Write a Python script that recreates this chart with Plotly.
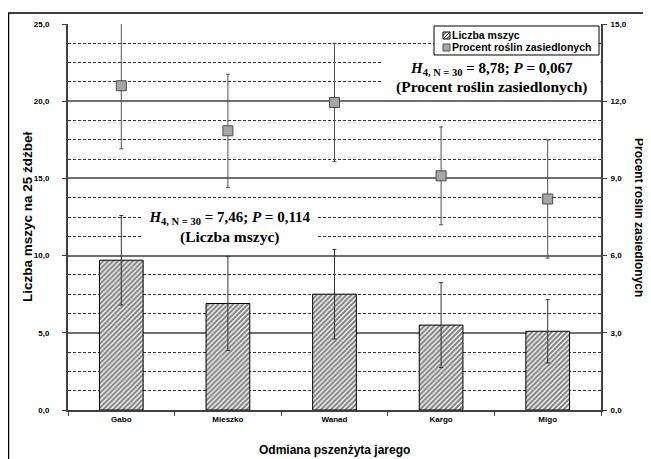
import plotly.graph_objects as go

categories = ["Gabo", "Mieszko", "Wanad", "Kargo", "Migo"]
liczba_mszyc = [9.7, 6.9, 7.5, 5.5, 5.1]
liczba_err = [2.9, 3.05, 2.9, 2.75, 2.05]
procent = [12.6, 10.85, 11.95, 9.1, 8.2]
procent_err = [2.45, 2.2, 2.3, 1.9, 2.3]

left_ticks = [0, 5, 10, 15, 20, 25]
right_ticks = [0, 3, 6, 9, 12, 15]

SANS = "Liberation Sans, Arial, sans-serif"
SERIF = "Liberation Serif, Times New Roman, serif"
AX = "#404040"

# plot area in reference pixels: left 68, right 601, top 22, bottom 410
PX_L, PX_R, PX_T, PX_B = 68, 601, 22, 410
W, H = PX_R - PX_L, PX_B - PX_T


def px(xp):
    return (xp - PX_L) / W


def py(yp):
    return (PX_B - yp) / H


fig = go.Figure()

fig.add_trace(go.Bar(
    x=categories, y=liczba_mszyc, name="Liczba mszyc",
    marker=dict(color="white", line=dict(color="black", width=1),
                pattern=dict(shape="/", fgcolor="black", bgcolor="white", size=3.5, solidity=0.6)),
    error_y=dict(type="data", array=liczba_err, visible=True, color="#333333", thickness=1, width=2),
    yaxis="y",
))

fig.add_trace(go.Scatter(
    x=categories, y=procent, name="Procent roślin zasiedlonych", mode="markers",
    marker=dict(symbol="square", size=10, color="#a6a6a6", line=dict(color="#4a4a4a", width=1)),
    error_y=dict(type="data", array=procent_err, visible=True, color="#505050", thickness=1, width=2),
    yaxis="y2",
))

# the page body has an 8px margin, so the figure is 8px smaller and margins are shifted
fig.update_layout(
    width=643, height=451,
    margin=dict(l=PX_L - 8, r=651 - PX_R, t=PX_T - 8, b=459 - PX_B),
    paper_bgcolor="white", plot_bgcolor="white",
    separators=", ",
    bargap=0.59,
    showlegend=False,
    font=dict(family=SANS, size=8, color="black"),
    xaxis=dict(
        type="category", showline=True, linecolor=AX, linewidth=2,
        ticks="outside", tickson="boundaries", ticklen=4, tickcolor=AX,
        tickfont=dict(family=SANS, size=8, weight="bold"),
        showgrid=False, zeroline=False,
    ),
    yaxis=dict(
        range=[0, 25], tickvals=left_ticks, tickformat=".1f",
        showline=True, linecolor=AX, linewidth=2,
        ticks="outside", ticklen=4, tickcolor=AX, ticklabelstandoff=11,
        tickfont=dict(family=SANS, size=8, weight="bold"),
        showgrid=True, gridcolor="#6e6e6e", gridwidth=1.5,
        minor=dict(dtick=1.25, showgrid=True, gridcolor="#333333", gridwidth=1, griddash="3px,2px", ticks=""),
        zeroline=False,
    ),
    yaxis2=dict(
        range=[0, 15], tickvals=right_ticks, tickformat=".1f",
        overlaying="y", side="right",
        showline=True, linecolor=AX, linewidth=2,
        ticks="outside", ticklen=4, tickcolor=AX, ticklabelstandoff=2,
        tickfont=dict(family=SANS, size=8, weight="bold"),
        showgrid=False, zeroline=False,
    ),
)

common = dict(xref="paper", yref="paper", showarrow=False, xanchor="center", yanchor="middle")

# statistics annotation for the percent series: white box + two lines
fig.add_annotation(x=px(491.5), y=py(77), width=217, height=38, valign="top", borderpad=0,
                   bgcolor="white",
                   text="<b><i>H</i><sub>4, N = 30</sub> = 8,78; <i>P</i> = 0,067</b>",
                   font=dict(family=SERIF, size=15, color="black"), **common)
fig.add_annotation(x=px(491.5), y=py(85), borderpad=0,
                   text="<b>(Procent roślin zasiedlonych)</b>",
                   font=dict(family=SERIF, size=15.5, color="black"), **common)
# statistics annotation for the aphid count series
fig.add_annotation(x=px(229.5), y=py(227), width=175, height=38, valign="top", borderpad=0,
                   bgcolor="white",
                   text="<b><i>H</i><sub>4, N = 30</sub> = 7,46; <i>P</i> = 0,114</b>",
                   font=dict(family=SERIF, size=15, color="black"), **common)
fig.add_annotation(x=px(229.5), y=py(236), borderpad=0,
                   text="<b>(Liczba mszyc)</b>",
                   font=dict(family=SERIF, size=15.5, color="black"), **common)

# manual legend (box, icons, labels) anchored at its top-left corner
LX, LY = px(434), py(24)
fig.add_shape(type="rect", xref="paper", yref="paper", xsizemode="pixel", ysizemode="pixel",
              xanchor=LX, yanchor=LY, x0=0, x1=165, y0=-29, y1=0,
              line=dict(color="black", width=1), fillcolor="white", layer="above")
fig.add_shape(type="rect", xref="paper", yref="paper", xsizemode="pixel", ysizemode="pixel",
              xanchor=LX, yanchor=LY, x0=9, x1=16, y0=-13, y1=-6,
              line=dict(color="black", width=1), fillcolor="white", layer="above")
fig.add_shape(type="path", xref="paper", yref="paper", xsizemode="pixel", ysizemode="pixel",
              xanchor=LX, yanchor=LY,
              path="M9,-13L16,-6M9,-9.5L12.5,-6M12.5,-13L16,-9.5",
              line=dict(color="black", width=1), layer="above")
fig.add_shape(type="rect", xref="paper", yref="paper", xsizemode="pixel", ysizemode="pixel",
              xanchor=LX, yanchor=LY, x0=9, x1=16, y0=-25, y1=-18,
              line=dict(color="#505050", width=1), fillcolor="#a6a6a6", layer="above")
fig.add_annotation(x=LX, y=LY, xshift=16, yshift=-9.5, xref="paper", yref="paper", showarrow=False,
                   xanchor="left", yanchor="middle", text="<b>Liczba mszyc</b>",
                   font=dict(family=SANS, size=10.5, color="black"))
fig.add_annotation(x=LX, y=LY, xshift=16, yshift=-21.5, xref="paper", yref="paper", showarrow=False,
                   xanchor="left", yanchor="middle", text="<b>Procent roślin zasiedlonych</b>",
                   font=dict(family=SANS, size=10.5, color="black"))

# axis titles
fig.add_annotation(x=px(27), y=0.5, xref="paper", yref="paper", showarrow=False,
                   textangle=-90, text="<b>Liczba mszyc na 25 źdźbeł</b>",
                   font=dict(family=SANS, size=13.5, color="black"), xanchor="center", yanchor="middle")
fig.add_annotation(x=px(639), y=0.5, xref="paper", yref="paper", showarrow=False,
                   textangle=90, text="<b>Procent roślin zasiedlonych</b>",
                   font=dict(family=SANS, size=12, color="black"), xanchor="center", yanchor="middle")
fig.add_annotation(x=0.5, y=py(450), xref="paper", yref="paper", showarrow=False,
                   text="<b>Odmiana pszenżyta jarego</b>",
                   font=dict(family=SANS, size=12, color="black"), xanchor="center", yanchor="middle")

# outer chart border (continues past the right and bottom edges)
fig.add_shape(type="rect", xref="paper", yref="paper",
              x0=px(8.5), x1=px(720), y0=py(520), y1=py(11),
              line=dict(color="black", width=1.5), layer="above")

fig.write_html("out.html")
